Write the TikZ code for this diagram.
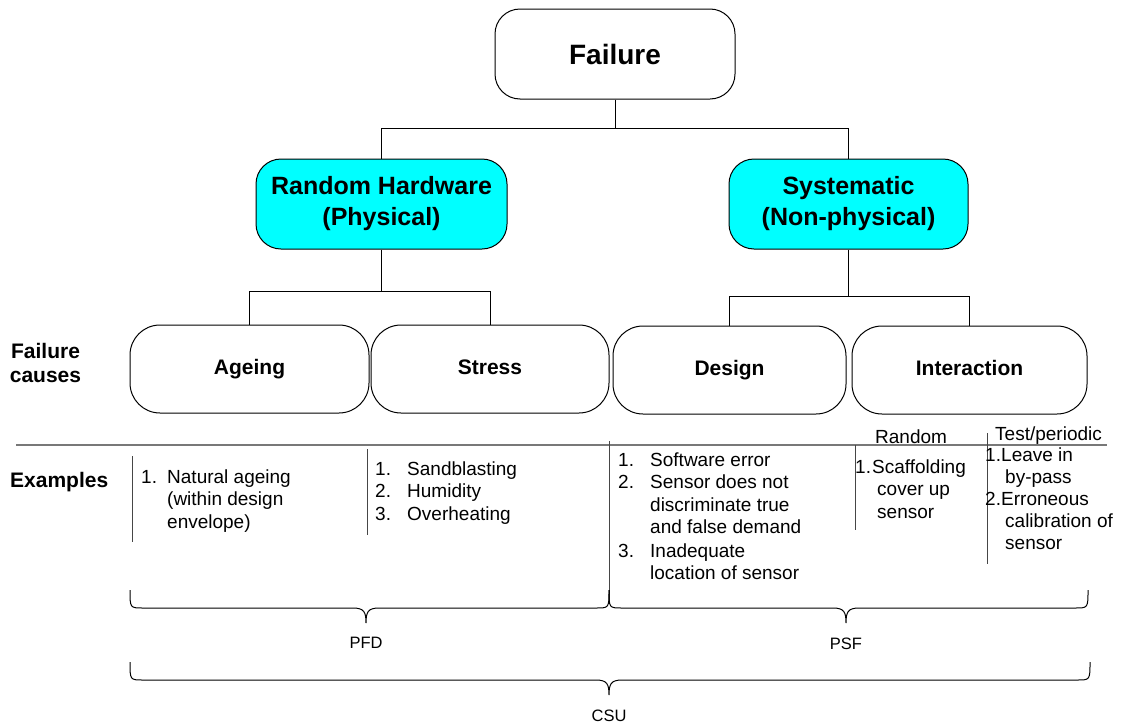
\documentclass[tikz,border=0pt]{standalone}
\usepackage{fontspec}
\setmainfont{Liberation Sans}
\definecolor{aqua}{RGB}{0,255,255}
\definecolor{rulegray}{RGB}{120,120,120}
\definecolor{sepgray}{RGB}{70,70,70}

% curly brace opening downwards: left x, right x, cusp x, top y
\newcommand{\curlybrace}[4]{%
  \draw[bracestyle] (#1,#4) .. controls (#1,#4+18) and (#1,#4+18) .. (#1+13,#4+18)
    -- (#3-13,#4+18) .. controls (#3-2,#4+18) and (#3,#4+22) .. (#3,#4+33)
    .. controls (#3,#4+22) and (#3+2,#4+18) .. (#3+13,#4+18)
    -- (#2-13,#4+18) .. controls (#2,#4+18) and (#2,#4+18) .. (#2,#4);}

\begin{document}
\begin{tikzpicture}[x=1pt,y=-1pt,
  box/.style={draw=black, line width=1pt, inner sep=0pt, align=center},
  topbox/.style={box, rounded corners=25pt, minimum height=90pt},
  causebox/.style={box, rounded corners=30pt, minimum height=88pt,
    text height=15pt, text depth=4.5pt, font=\bfseries\fontsize{21}{25}\selectfont},
  link/.style={draw=black, line width=1pt},
  sep/.style={draw=sepgray, line width=1pt},
  rulestyle/.style={draw=rulegray, line width=2pt},
  bracestyle/.style={draw=black, line width=1pt},
  % multi-line items: the base anchor sits on the last line
  item/.style={anchor=base west, inner sep=0pt, align=left, font=\fontsize{19}{22.5}\selectfont},
  sidelabel/.style={inner sep=0pt, font=\bfseries\fontsize{21}{24}\selectfont},
  sumlabel/.style={inner sep=0pt, font=\fontsize{16.5}{20}\selectfont}
]
\fill[white] (0,0) rectangle (1123,723);
\useasboundingbox (0,0) rectangle (1123,723);

% tree boxes
\node[topbox, minimum width=240pt, font=\bfseries\fontsize{28}{32}\selectfont] (fail) at (615,54) {Failure};
\node[topbox, fill=aqua, minimum width=251pt, font=\bfseries\fontsize{25}{31}\selectfont] (rh) at (381.5,204) {Random Hardware\\(Physical)};
\node[topbox, fill=aqua, minimum width=239pt, font=\bfseries\fontsize{25}{31}\selectfont] (sys) at (848.5,204) {Systematic\\(Non-physical)};

\node[causebox, minimum width=239pt] (age) at (249.5,369) {Ageing};
\node[causebox, minimum width=238pt] (str) at (490,369) {Stress};
\node[causebox, minimum width=233pt] (des) at (729.5,370) {Design};
\node[causebox, minimum width=235pt] (int) at (969.5,370) {Interaction};

% tree connectors
\draw[link] (fail.south) -- (fail.south |- 0,128) coordinate (j0);
\draw[link] (j0) -| (rh.north);
\draw[link] (j0) -| (sys.north);
\draw[link] (rh.south) -- (rh.south |- 0,291) coordinate (j1);
\draw[link] (j1) -| (age.north);
\draw[link] (j1) -| (str.north);
\draw[link] (sys.south) -- (sys.south |- 0,296) coordinate (j2);
\draw[link] (j2) -| (des.north);
\draw[link] (j2) -| (int.north);

% row labels
\node[sidelabel, align=center, anchor=base] (fclab) at (45.5,382) {Failure\\causes};
\node[sidelabel, anchor=base west] (exlab) at (10,487) {Examples};

% separating rule and column lines
\draw[rulestyle] (16,445) -- (1107,445);
\draw[sep] (132,456) -- (132,542);
\draw[sep] (367,449) -- (367,535);
\draw[sep] (609,441) -- (609,602);
\draw[sep] (855,445) -- (855,530);
\draw[sep] (987,433) -- (987,564);

% examples: ageing
\node[item] (an) at (141,483) {1.};
\node[item] (at) at (167,528) {Natural ageing\\(within design\\envelope)};
% examples: stress
\node[item] (sn) at (375,520) {1.\\2.\\3.};
\node[item] (st) at (407,520) {Sandblasting\\Humidity\\Overheating};
% examples: design
\node[item] (dn1) at (618,466) {1.};
\node[item] (dt1) at (650,466) {Software error};
\node[item] (dn2) at (618,488.5) {2.};
\node[item] (dt2) at (650,533.5) {Sensor does not\\discriminate true\\and false demand};
\node[item] (dn3) at (618,557) {3.};
\node[item] (dt3) at (650,579.5) {Inadequate\\location of sensor};
% examples: interaction
\node[item] (rhead) at (875,443) {Random};
\node[item] (rn1) at (855,473) {1.};
\node[item] (rt1) at (872,473) {Scaffolding};
\node[item] (rt1b) at (877,518) {cover up\\sensor};
\node[item] (thead) at (995,440) {Test/periodic};
\node[item] (tn1) at (985,461) {1.};
\node[item] (tt1) at (1001,461) {Leave in};
\node[item] (tt1b) at (1005,483) {by-pass};
\node[item] (tn2) at (985,505) {2.};
\node[item] (tt2) at (1001,505) {Erroneous};
\node[item] (tt2b) at (1005,549.5) {calibration of\\sensor};

% braces and their labels
\curlybrace{130}{609}{366}{590}
\curlybrace{609}{1088}{846}{590}
\curlybrace{130}{1090}{609}{662}
\node[sumlabel] (pfd) at (366,643) {PFD};
\node[sumlabel] (psf) at (846,644) {PSF};
\node[sumlabel] (csu) at (609,716) {CSU};
\end{tikzpicture}
\end{document}
